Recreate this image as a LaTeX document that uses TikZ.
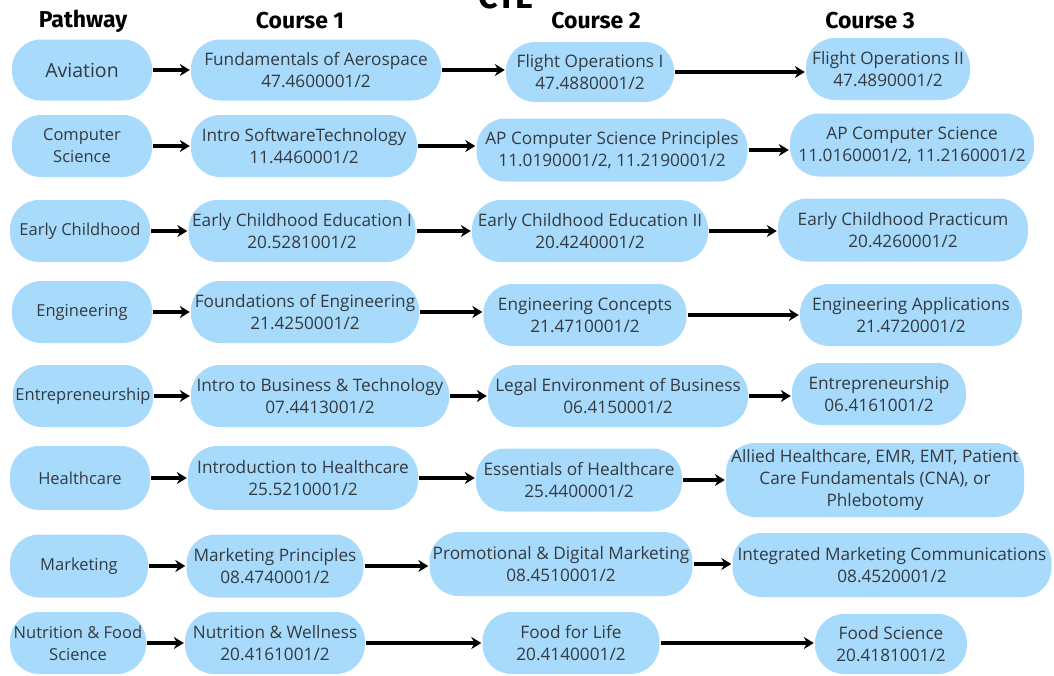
\documentclass[tikz,border=0pt]{standalone}
\usepackage{fontspec}
\setmainfont{Open Sans}
\newfontfamily\headfont{Fira Sans}
\usetikzlibrary{arrows.meta}
\definecolor{pillblue}{RGB}{168,218,252}
\definecolor{txt}{RGB}{52,58,64}
\newcommand\pill[6]{\node[pill, minimum width=#4pt, minimum height=#5pt] (#1) at (#2,#3) {#6};}
\newcommand\pway[6]{\node[pill, pathfont, minimum width=#4pt, minimum height=#5pt] (#1) at (#2,#3) {#6};}
\begin{document}
\begin{tikzpicture}[x=1pt,y=-1pt,
  pill/.style={fill=pillblue, rounded corners=29pt, inner sep=0pt, align=center,
    font=\fontsize{17.2}{22}\selectfont, text=txt},
  pathfont/.style={font=\fontsize{16.5}{22}\selectfont},
  hdr/.style={font=\headfont\bfseries\fontsize{23}{25}\selectfont, text=black, inner sep=0pt},
  arr/.style={line width=3.2pt, -{Stealth[length=10pt,width=12pt]}, shorten >=1pt, shorten <=1pt}]
\clip (0,0) rectangle (1054,675);
\useasboundingbox (0,0) rectangle (1054,675);
% title and headers
\node[font=\headfont\bfseries\fontsize{34}{36}\selectfont, anchor=base, inner sep=0pt] (title) at (506,8) {CTE};
\node[hdr] (h0) at (83,21) {Pathway};
\node[hdr] (h1) at (300,21) {Course 1};
\node[hdr] (h2) at (596,21) {Course 2};
\node[hdr] (h3) at (870,21) {Course 3};
% row 1
\pway{p1}{82}{70}{140}{61}{\fontsize{19.5}{22}\selectfont Aviation}
\pill{a1}{316}{70}{250}{61}{Fundamentals of Aerospace\\47.4600001/2}
\pill{b1}{590}{72}{168}{60}{Flight Operations I\\47.4880001/2}
\pill{c1}{888}{69}{164}{62}{Flight Operations II\\47.4890001/2}
% row 2
\pway{p2}{82}{146}{140}{62}{Computer\\Science}
\pill{a2}{304}{146}{226}{62}{Intro SoftwareTechnology\\11.4460001/2}
\pill{b2}{612}{150}{271}{63}{AP Computer Science Principles\\11.0190001/2, 11.2190001/2}
\pill{c2}{912}{145}{244}{63}{AP Computer Science\\11.0160001/2, 11.2160001/2}
% row 3
\pway{p3}{80}{231}{140}{62}{Early Childhood}
\pill{a3}{302}{231}{227}{62}{Early Childhood Education I\\20.5281001/2}
\pill{b3}{590}{231}{236}{62}{Early Childhood Education II\\20.4240001/2}
\pill{c3}{903}{230}{250}{63}{Early Childhood Practicum\\20.4260001/2}
% row 4
\pway{p4}{82}{312}{140}{62}{Engineering}
\pill{a4}{305}{312}{228}{62}{Foundations of Engineering\\21.4250001/2}
\pill{b4}{585}{315}{203}{62}{Engineering Concepts\\21.4710001/2}
\pill{c4}{911}{315}{222}{62}{Engineering Applications\\21.4720001/2}
% row 5
\pway{p5}{83}{396}{140}{62}{Entrepreneurship}
\pill{a5}{320}{396}{258}{62}{Intro to Business \& Technology\\07.4413001/2}
\pill{b5}{618}{396}{260}{62}{Legal Environment of Business\\06.4150001/2}
\pill{c5}{879}{394}{174}{62}{Entrepreneurship\\06.4161001/2}
% row 6
\pway{p6}{80}{478}{140}{64}{Healthcare}
\pill{a6}{303}{478}{230}{64}{Introduction to Healthcare\\25.5210001/2}
\pill{b6}{579}{480}{206}{63}{Essentials of Healthcare\\25.4400001/2}
\pill{c6}{875}{480}{298}{74}{Allied Healthcare, EMR, EMT, Patient\\Care Fundamentals (CNA), or\\Phlebotomy}
% row 7
\pway{p7}{79}{566}{138}{63}{Marketing}
\pill{a7}{275}{566}{177}{63}{Marketing Principles\\08.4740001/2}
\pill{b7}{561}{564}{263}{64}{Promotional \& Digital Marketing\\08.4510001/2}
\pill{c7}{892}{565}{319}{64}{Integrated Marketing Communications\\08.4520001/2}
% row 8
\pway{p8}{78}{643}{136}{62}{Nutrition \& Food\\Science}
\pill{a8}{275}{643}{180}{62}{Nutrition \& Wellness\\20.4161001/2}
\pill{b8}{571}{643}{177}{62}{Food for Life\\20.4140001/2}
\pill{c8}{891}{644}{152}{60}{Food Science\\20.4181001/2}
% arrows
\foreach \r in {1,...,8}{
  \draw[arr] (p\r.east) -- (p\r.east -| a\r.west);
  \draw[arr] (a\r.east) -- (a\r.east -| b\r.west);
  \draw[arr] (b\r.east) -- (b\r.east -| c\r.west);
}
\end{tikzpicture}
\end{document}
